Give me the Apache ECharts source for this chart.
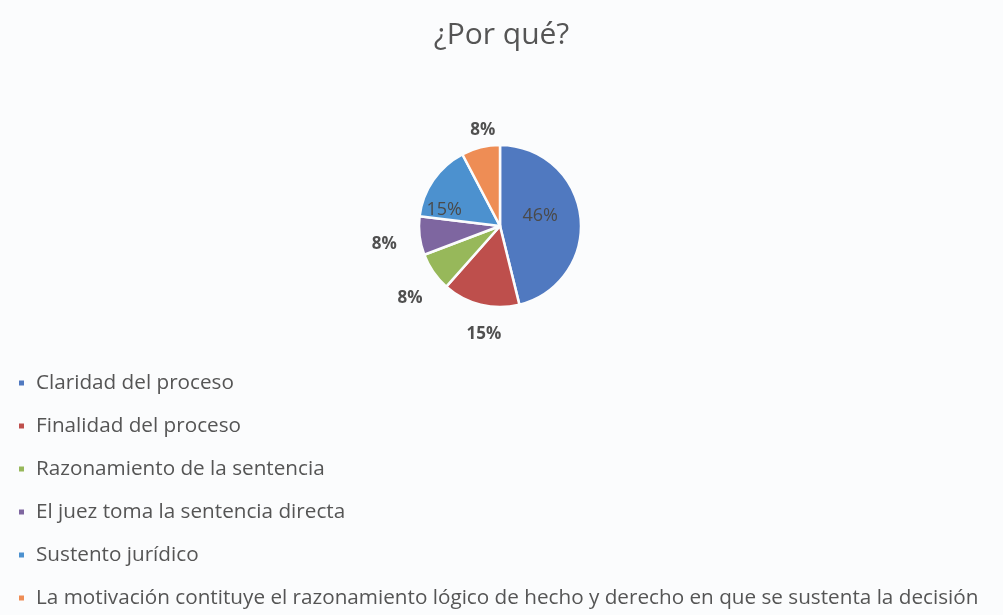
<!DOCTYPE html>
<html><head><meta charset="utf-8">
<script src="https://cdn.jsdelivr.net/npm/echarts@6/dist/echarts.min.js"></script>
<style>html,body{margin:0;padding:0;background:#fbfcfd}#c{width:1003px;height:615px}</style>
</head><body><div id="c"></div>
<script>
const categories = ["Claridad del proceso","Finalidad del proceso","Razonamiento de la sentencia","El juez toma la sentencia directa","Sustento jurídico","La motivación contituye el razonamiento lógico de hecho y derecho en que se sustenta la decisión"];
const counts = [6,2,1,1,2,1];
const colors = ["#5079C0","#BE4F4C","#97B85A","#7E66A0","#4C91CF","#EE8D55"];
const insideLabels = [true,false,false,false,true,false];
const labelOffsets = [[-3,-5],[30,12],[9,16],[0,6],[-20,9],[24,0]];

const chart = echarts.init(document.getElementById('c'));
const font = '"Open Sans", "Noto Sans", sans-serif';
chart.setOption({
  backgroundColor:'#fbfcfd',
  title:{text:'¿Por qué?',left:'center',top:15,textStyle:{fontFamily:font,fontSize:30,fontWeight:'normal',color:'#555'}},
  legend:{orient:'vertical',left:17,top:371,bottom:0,padding:0,icon:'rect',itemWidth:7,itemHeight:7,itemGap:19,
    textStyle:{fontFamily:font,fontSize:20.7,lineHeight:24,color:'#555',padding:[0,0,0,6]},data:categories},
  series:[{type:'pie',center:[500,226],radius:[0,81],startAngle:90,clockwise:true,
    itemStyle:{borderColor:'#fbfcfd',borderWidth:2.5},
    labelLine:{show:false,length:18,length2:0},
    label:{formatter:p=>Math.round(p.percent)+'%',fontFamily:font,fontSize:17,fontWeight:'bold',color:'#505050'},
    data:categories.map((n,i)=>({name:n,value:counts[i],itemStyle:{color:colors[i]},
      label: insideLabels[i]?{position:'inside',fontWeight:'normal',color:'#4a4a4a',fontSize:18,offset:labelOffsets[i]}:{position:'outside',offset:labelOffsets[i]}}))
  }]
});
</script></body></html>
